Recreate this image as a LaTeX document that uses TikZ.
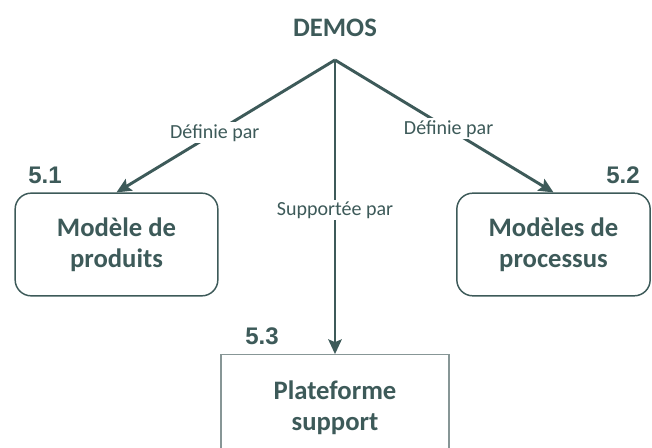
\documentclass[tikz,border=0pt]{standalone}
\usepackage{fontspec}
\setmainfont{Carlito}
\newfontfamily\numfont{Liberation Sans}
\usepackage{xcolor}
\usepackage{tikz}
\usetikzlibrary{arrows.meta,positioning}
\definecolor{demosteal}{RGB}{61, 90, 89}
\definecolor{supportgray}{RGB}{135, 150, 150}

\begin{document}
\begin{tikzpicture}[x=0.75pt, y=-0.75pt, >={Stealth[length=11pt, width=10pt, inset=2pt]},
        modelbox/.style={draw=demosteal, line width=1.1pt, rounded corners=12pt, align=center,
            text=demosteal, font=\fontsize{20}{23}\selectfont\bfseries},
        linklabel/.style={fill=white, text=demosteal, inner sep=1.5pt, font=\fontsize{15}{17}\selectfont},
        numlabel/.style={text=demosteal, font=\numfont\fontsize{18}{20}\selectfont\bfseries},
        link/.style={draw=demosteal, line width=2.2pt}]
        \clip (0, 0) rectangle (652, 448);

        % Top concept
        \node[text=demosteal, font=\fontsize{20}{23}\selectfont\bfseries] (demos) at (335, 28) {DEMOS};
        \coordinate (apex) at (335, 60);

        % Boxes
        \node[modelbox, minimum width=152pt, minimum height=77pt] (produits) at (116.5, 244.5) {Mod\`ele de\\produits};
        \node[modelbox, minimum width=145pt, minimum height=77pt] (processus) at (553.5, 244.5) {Mod\`eles de\\processus};
        \node[draw=supportgray, line width=0.8pt, align=center, text=demosteal,
            font=\fontsize{20}{23}\selectfont\bfseries, minimum width=171pt, minimum height=80pt] (support) at (335, 408) {Plateforme\\support};

        % Numbers
        \node[numlabel] (n51) at (45, 175) {5.1};
        \node[numlabel] (n52) at (623, 175) {5.2};
        \node[numlabel] (n53) at (262, 336) {5.3};

        % Links
        \draw[link, ->] (apex) -- node[linklabel, pos=0.55] {D\'efinie par} (produits.north);
        \draw[link, ->] (apex) -- node[linklabel, pos=0.52] {D\'efinie par} (processus.north);
        \draw[link, ->] (apex) -- node[linklabel, pos=0.51] {Support\'ee par} (support.north);
    \end{tikzpicture}
\end{document}
